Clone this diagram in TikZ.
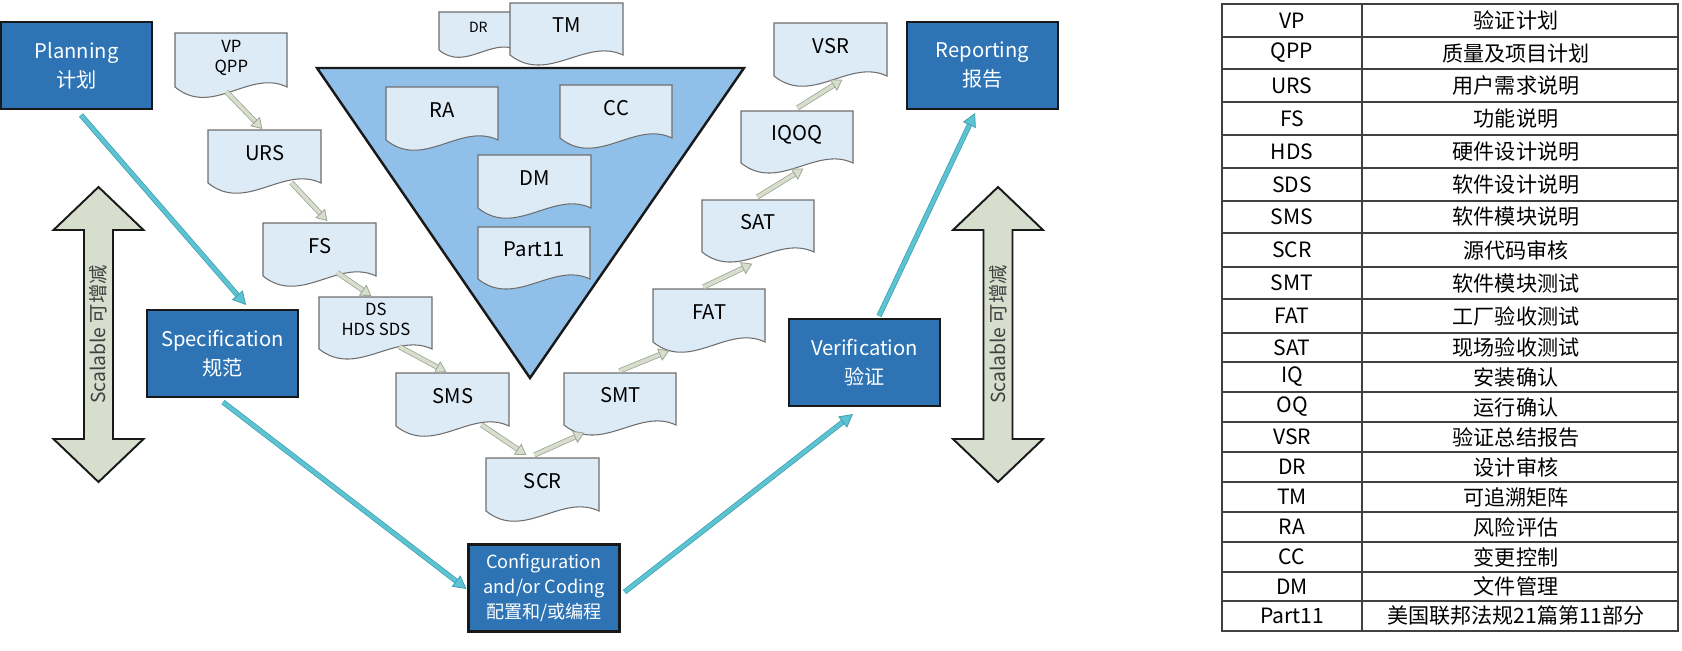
\documentclass[tikz,border=0pt]{standalone}
\usepackage{fontspec}
\setmainfont{Noto Sans CJK SC}
\usetikzlibrary{arrows.meta}
\definecolor{phasefill}{HTML}{2E74B5}
\definecolor{vfill}{HTML}{90C0E9}
\definecolor{docfill}{HTML}{DDEBF7}
\definecolor{docedge}{HTML}{6E6E6E}
\definecolor{sage}{HTML}{D7DECD}
\definecolor{sageedge}{HTML}{9EA592}
\definecolor{flowfill}{HTML}{5CC3D3}
\definecolor{flowedge}{HTML}{3E9BAA}
\definecolor{tabedge}{HTML}{404040}
\def\xTabL{1222}
\def\xTabM{1362}
\def\xTabR{1678}
\tikzset{
  phase/.style={draw=black!90, line width=1.2pt, fill=phasefill, text=white, align=center,
    minimum width=3.02cm, minimum height=1.74cm, inner sep=0pt, font=\fontsize{11.5}{16.5}\selectfont},
  docbox/.style={inner sep=0pt, anchor=north west, align=center, text depth=4.5pt,
    font=\fontsize{11.5}{14}\selectfont},
  docline/.style={draw=docedge, fill=docfill, line width=0.6pt},
  vshape/.style={draw=black!90, fill=vfill, line width=1.4pt, line join=miter},
  flow/.style={draw=flowedge, double=flowfill, double distance=2.2pt, line width=0.4pt,
    -{Triangle[length=7.5pt, width=8pt, fill=flowfill]}},
  docflow/.style={draw=sageedge, double=sage, double distance=2.1pt, line width=0.45pt,
    -{Triangle[length=6pt, width=7.5pt, fill=sage]}},
  scalebody/.style={draw=black!90, line width=1.1pt, fill=sage, line join=miter},
  scaletext/.style={rotate=90, text=black!75, font=\fontsize{11}{13}\selectfont},
  tabline/.style={draw=tabedge, line width=0.8pt},
  tabtxt/.style={font=\fontsize{12}{14}\selectfont, inner sep=0pt},
}
\newcommand{\vdoc}[7][]{%
  \draw[docline] (#3,#4) -- ++(#5,0) -- ++(0,#6)
    .. controls +({-#5/3},{-0.34*#6}) and +({#5/3},{0.57*#6}) .. ++(-#5,0) -- cycle;
  \node[docbox, minimum width={#5*0.02cm}, minimum height={#6*0.02cm}, #1] (#2) at (#3,#4) {#7};}
\newcommand{\scalearrow}[2]{%
  \draw[scalebody] (#2,187) -- ({#2+45},230) -- ({#2+14.5},230) -- ({#2+14.5},439)
    -- ({#2+45},439) -- (#2,482) -- ({#2-45},439) -- ({#2-14.5},439)
    -- ({#2-14.5},230) -- ({#2-45},230) -- cycle;
  \node[scaletext] (#1) at (#2,334.5) {Scalable 可增减};}

\begin{document}
\begin{tikzpicture}[x=0.02cm, y=-0.02cm]
  \useasboundingbox (0,0) rectangle (1682,650);

  % phases
  \node[phase] (plan) at (76.5,65.5) {Planning\\计划};
  \node[phase] (spec) at (222.5,353.5) {Specification\\规范};
  \node[phase, font=\fontsize{10.3}{14.2}\selectfont] (conf) at (544,588) {Configuration\\and/or Coding\\配置和/或编程};
  \node[phase] (verif) at (864.5,362.5) {Verification\\验证};
  \node[phase] (report) at (982.5,65.5) {Reporting\\报告};

  \draw[flow] ([shift={(4.5,5)}]plan.south) -- ([shift={(23.5,-4)}]spec.north);
  \draw[flow] ([shift={(0.5,4)}]spec.south) -- ([shift={(-1,1)}]conf.west);
  \draw[flow] ([shift={(4,4)}]conf.east) -- ([shift={(-11.5,7)}]verif.south);
  \draw[flow] ([shift={(14.5,-2)}]verif.north) -- ([shift={(-7.5,3)}]report.south);

  \scalearrow{scaleL}{98.5}
  \scalearrow{scaleR}{998}

  % supporting activities
  \draw[vshape] (317,68) -- (744,68) -- (530,378) -- cycle;
  \vdoc[font=\fontsize{8}{10}\selectfont]{dr}{439}{12}{78}{38}{DR}
  \vdoc{tm}{510}{3}{113}{52}{TM}
  \vdoc{ra}{386}{87}{112}{53}{RA}
  \vdoc{cc}{560}{85}{112}{53}{CC}
  \vdoc{dm}{478}{155}{113}{53}{DM}
  \vdoc{part}{478}{227}{112}{52}{Part11}

  % deliverables
  \vdoc[font=\fontsize{9.5}{11.5}\selectfont]{vpqpp}{175}{33}{112}{54}{VP\\QPP}
  \vdoc{urs}{208}{130}{113}{53}{URS}
  \vdoc{fs}{263}{223}{113}{53}{FS}
  \vdoc[font=\fontsize{9.5}{11.5}\selectfont]{ds}{319}{297}{113}{52}{DS\\HDS SDS}
  \vdoc{sms}{396}{373}{113}{53}{SMS}
  \vdoc{scr}{486}{458}{113}{53}{SCR}
  \vdoc{smt}{564}{373}{112}{52}{SMT}
  \vdoc{fat}{653}{289}{112}{53}{FAT}
  \vdoc{sat}{702}{200}{112}{52}{SAT}
  \vdoc{iqoq}{741}{111}{112}{52}{IQOQ}
  \vdoc{vsr}{774}{23}{113}{53}{VSR}

  \draw[docflow] ([shift={(-5,4)}]vpqpp.south) -- ([shift={(-2.5,-1)}]urs.north);
  \draw[docflow] ([shift={(26.5,-1)}]urs.south) -- ([shift={(7.5,-2)}]fs.north);
  \draw[docflow] ([shift={(17.5,-4)}]fs.south) -- ([shift={(-4.5,-1)}]ds.north);
  \draw[docflow] ([shift={(23.5,-3)}]ds.south) -- ([shift={(-6.5,-1)}]sms.north);
  \draw[docflow] ([shift={(28.5,-2)}]sms.south) -- ([shift={(-16.5,-3)}]scr.north);
  \draw[docflow] ([shift={(-8.5,-3)}]scr.north) -- ([shift={(-36,7)}]smt.south);
  \draw[docflow] ([shift={(-1,-2)}]smt.north) -- ([shift={(-40,8)}]fat.south);
  \draw[docflow] ([shift={(-6,-2)}]fat.north) -- ([shift={(-6,11)}]sat.south);
  \draw[docflow] ([shift={(-1,-3)}]sat.north) -- ([shift={(6,5)}]iqoq.south);
  \draw[docflow] ([shift={(0,-3)}]iqoq.north) -- ([shift={(11.5,3)}]vsr.south);

  % glossary
  \foreach \ya/\yb/\ab/\cn [count=\i] in {
      4/37/VP/验证计划, 37/69/QPP/质量及项目计划, 69/102/URS/用户需求说明,
      102/135/FS/功能说明, 135/168/HDS/硬件设计说明, 168/201/SDS/软件设计说明,
      201/233/SMS/软件模块说明, 233/267/SCR/源代码审核, 267/299/SMT/软件模块测试,
      299/333/FAT/工厂验收测试, 333/362/SAT/现场验收测试, 362/392/IQ/安装确认,
      392/422/OQ/运行确认, 422/452/VSR/验证总结报告, 452/482/DR/设计审核,
      482/512/TM/可追溯矩阵, 512/542/RA/风险评估, 542/572/CC/变更控制,
      572/601/DM/文件管理, 601/631/Part11/美国联邦法规21篇第11部分} {
    \draw[tabline] (\xTabL,\ya) rectangle (\xTabR,\yb);
    \draw[tabline] (\xTabM,\ya) -- (\xTabM,\yb);
    \node[tabtxt] (ab\i) at ({(\xTabL+\xTabM)/2},{(\ya+\yb)/2}) {\ab};
    \node[tabtxt] (cn\i) at ({(\xTabM+\xTabR)/2-4},{(\ya+\yb)/2}) {\cn};
  }
\end{tikzpicture}
\end{document}
